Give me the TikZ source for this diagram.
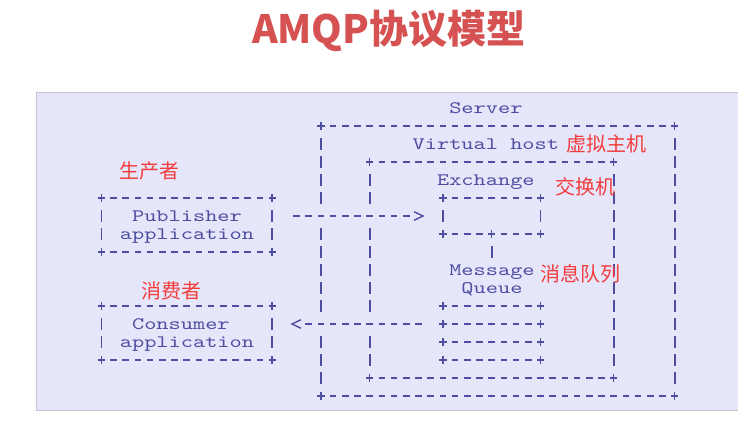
\documentclass[tikz,border=0pt]{standalone}
\usepackage{fontspec}
\usepackage{tikz}
\setmonofont{lmmono10-regular.otf}
\newfontfamily\cjk{Noto Sans CJK SC}
\definecolor{ascblue}{HTML}{4E4EA2}
\definecolor{bgpurple}{HTML}{E6E6FA}
\definecolor{framegrey}{HTML}{C4C4CE}
\definecolor{titlered}{HTML}{D65252}
\definecolor{notered}{HTML}{F43C3C}

\tikzset{
  mono/.style={font=\ttfamily\fontsize{17.5}{18}\selectfont, text=ascblue,
    inner sep=0pt, anchor=base west, xscale=1.328, yshift=-5pt},
  hdash/.style={draw=ascblue, line width=1.5pt, dash pattern=on 6.7pt off 5.5pt, dash phase=9.45pt},
  vdash/.style={draw=ascblue, line width=1.6pt, dash pattern=on 11.4pt off 6.6pt, dash phase=14.7pt},
  chev/.style={draw=ascblue, line width=1.4pt},
  note/.style={font=\cjk\fontsize{20}{20}\selectfont, text=notered, inner sep=0pt},
  pics/crn/.style={code={\draw[ascblue, line width=1.4pt] (-3.6pt,0) -- (3.6pt,0) (0,-3.8pt) -- (0,3.8pt);}},
}

\begin{document}
\begin{tikzpicture}[x=1pt, y=-1pt]
  \useasboundingbox (0,0) rectangle (751,421);
  % title and panel
  \node[font=\cjk\bfseries\fontsize{39}{39}\selectfont, text=titlered] (title) at (388.7,31) {AMQP协议模型};
  \fill[bgpurple] (36,92) rectangle (738,410);
  \draw[framegrey, line width=1pt] (738,92) -- (36,92) -- (36,410) -- (738,410);

  % ascii art, one unit = one character cell
  \begin{scope}[shift={(101.3,108)}, x=12.2pt, y=-18pt]
    % server box
    \draw[hdash] (18.5,1) -- (46.5,1) (18.5,16) -- (46.5,16);
    \draw[vdash] (18,1.5) -- (18,5.5) (18,6.5) -- (18,11.5) (18,12.5) -- (18,15.5);
    \draw[vdash] (47,1.5) -- (47,15.5);
    % virtual host box
    \draw[hdash] (22.5,3) -- (41.5,3) (22.5,15) -- (41.5,15);
    \draw[vdash] (22,3.5) -- (22,5.5) (22,6.5) -- (22,11.5) (22,12.5) -- (22,14.5);
    \draw[vdash] (42,3.5) -- (42,14.5);
    % publisher and consumer boxes
    \foreach \rt/\rb in {5/8, 11/14} {
      \draw[hdash] (0.5,\rt) -- (13.5,\rt) (0.5,\rb) -- (13.5,\rb);
      \draw[vdash] (0,\rt+.5) -- (0,\rb-.5) (14,\rt+.5) -- (14,\rb-.5);
    }
    % exchange box
    \draw[hdash] (28.5,5) -- (35.5,5) (28.5,7) -- (31.5,7) (32.5,7) -- (35.5,7);
    \draw[vdash] (28,5.5) -- (28,6.5) (36,5.5) -- (36,6.5);
    % queues
    \foreach \r in {11,...,14}
      \draw[hdash] (28.5,\r) -- (35.5,\r);
    % corners
    \foreach \cc/\rr in {18/1, 47/1, 18/16, 47/16, 22/3, 42/3, 22/15, 42/15,
        0/5, 14/5, 0/8, 14/8, 0/11, 14/11, 0/14, 14/14,
        28/5, 36/5, 28/7, 32/7, 36/7,
        28/11, 36/11, 28/12, 36/12, 28/13, 36/13, 28/14, 36/14}
      \pic at (\cc,\rr) {crn};

    % labels
    \foreach \nm/\cc/\rr/\txt in {srv/29/0/Server, vhost/26/2/Virtual host,
        exch/28/4/Exchange, pubtop/3/6/Publisher, pubbot/2/7/application,
        msg/29/9/Message, que/30/10/Queue, contop/3/12/Consumer,
        conbot/2/13/application}
      \node[mono] (\nm) at (\cc-.5,\rr) {\txt};

    % connectors
    \coordinate (pubout) at (15.5,6);
    \coordinate (exin) at (25.5,6);
    \coordinate (qout) at (26.5,12);
    \coordinate (conin) at (16.5,12);
    \coordinate (exdown) at (32,7.5);
    \coordinate (qup) at (32,8.5);
    \draw[hdash] (pubout) -- (exin);
    \draw[chev] ([xshift=-4.5pt,yshift=4.3pt]26,6) -- ([xshift=4.5pt]26,6) -- ([xshift=-4.5pt,yshift=-4.3pt]26,6);
    \draw[hdash] (qout) -- (conin);
    \draw[chev] ([xshift=4.5pt,yshift=4.3pt]16,12) -- ([xshift=-4.5pt]16,12) -- ([xshift=4.5pt,yshift=-4.3pt]16,12);
    \draw[vdash] (exdown) -- (qup);
  \end{scope}

  % chinese notes
  \node[note] (producer) at (149.5,171) {生产者};
  \node[note] (consumer) at (171.2,291) {消费者};
  \node[note] (vhostcn) at (606.8,144.3) {虚拟主机};
  \node[note] (exchcn) at (585.8,187.3) {交换机};
  \node[note] (queuecn) at (580.5,274) {消息队列};
\end{tikzpicture}
\end{document}
